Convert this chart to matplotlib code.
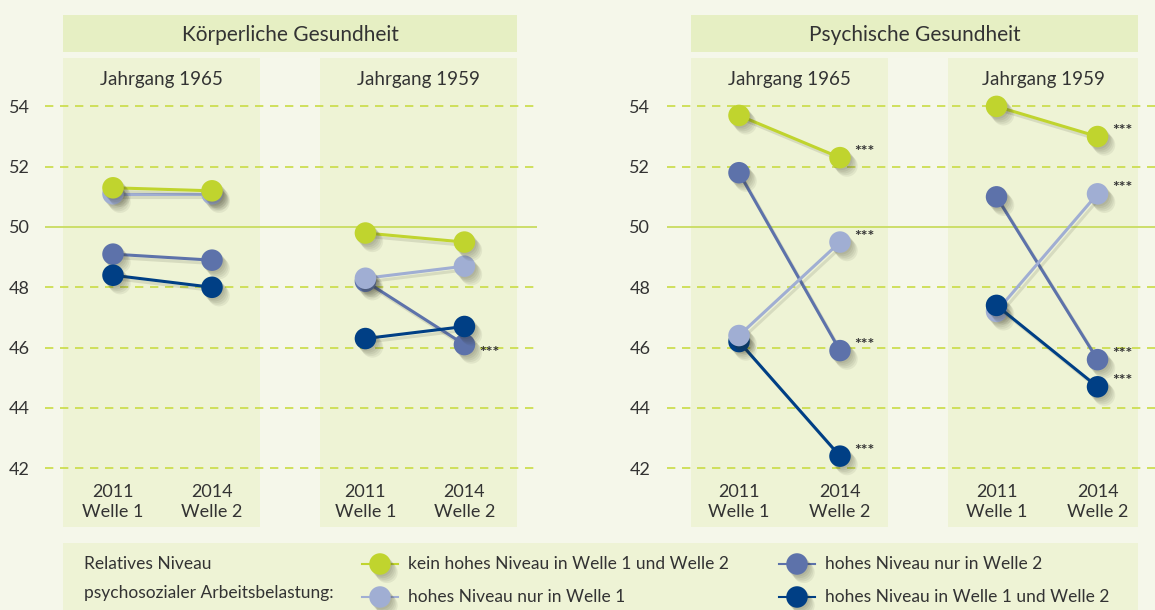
# Gesundheit nach Niveau psychosozialer Arbeitsbelastung, Jahrgang 1965 / 1959
import matplotlib
matplotlib.use('Agg')
import matplotlib.pyplot as plt
import matplotlib.patheffects as pe
from matplotlib.patches import Rectangle
from matplotlib.lines import Line2D

plt.rcParams['font.family'] = ['Lato', 'DejaVu Sans']

# ---- data ----
panels = ['Körperliche Gesundheit', 'Psychische Gesundheit']
cohorts = ['Jahrgang 1965', 'Jahrgang 1959']
waves = ['2011\nWelle 1', '2014\nWelle 2']
groups = ['kein hohes Niveau in Welle 1 und Welle 2',
          'hohes Niveau nur in Welle 1',
          'hohes Niveau nur in Welle 2',
          'hohes Niveau in Welle 1 und Welle 2']
legend_title = ['Relatives Niveau', 'psychosozialer Arbeitsbelastung:']
yticks = [42, 44, 46, 48, 50, 52, 54]

# values: [Jahrgang 1965, Jahrgang 1959] x [Welle 1, Welle 2]
koerper_kein = [[51.3, 51.2], [49.8, 49.5]]
koerper_nur1 = [[51.1, 51.1], [48.3, 48.7]]
koerper_nur2 = [[49.1, 48.9], [48.2, 46.1]]
koerper_beide = [[48.4, 48.0], [46.3, 46.7]]

psych_kein = [[53.7, 52.3], [54.0, 53.0]]
psych_nur1 = [[46.4, 49.5], [47.2, 51.1]]
psych_nur2 = [[51.8, 45.9], [51.0, 45.6]]
psych_beide = [[46.2, 42.4], [47.4, 44.7]]

# significance of change (***), per cohort, per group
koerper_sig = [[False, False, False, False], [False, False, True, False]]
psych_sig = [[True, True, True, True], [True, True, True, True]]

# ---- style ----
W, H = 1155, 610
bg = '#f5f7ea'
col_bg = '#eef3d5'
head_bg = '#e6efc3'
grid_c = '#c9dc45'
txt_c = '#333333'
colors = ['#c0d42e', '#a0aed3', '#5d72aa', '#003f85']

fig = plt.figure(figsize=(W / 100, H / 100), dpi=100, facecolor=bg)


def box(x0, y0, x1, y1, color):
    fig.add_artist(Rectangle((x0 / W, 1 - y1 / H), (x1 - x0) / W, (y1 - y0) / H,
                             transform=fig.transFigure, facecolor=color,
                             edgecolor='none', zorder=0))


def ftext(x, y, s, **kw):
    fig.text(x / W, 1 - y / H, s, color=txt_c, **kw)


mark_fx = [pe.SimplePatchShadow(offset=(d, -d * 1.2), shadow_rgbFace='#303020', alpha=0.07)
           for d in (1.0, 2.0, 3.0, 4.0, 5.0)] + [pe.Normal()]
line_fx = [pe.SimpleLineShadow(offset=(2, -2.5), shadow_color='#303020', alpha=0.12),
           pe.Normal()]

# layout (pixels)
ax_x = [(45, 537), (667, 1155)]
heads = [(63, 517), (691, 1138)]
cols = [[(63, 260), (320, 517)], [(691, 888), (948, 1138)]]
xlims = [(-0.687, 4.283), (-0.713, 4.119)]
xpos = [[0, 1], [2.55, 3.55]]
ylim = (40.05, 55.605)
top, bottom = 58, 527

panel_data = [[koerper_kein, koerper_nur1, koerper_nur2, koerper_beide],
              [psych_kein, psych_nur1, psych_nur2, psych_beide]]
panel_sig = [koerper_sig, psych_sig]
# drawing order of groups per panel/cohort (last on top)
orders = [[[2, 3, 1, 0], [2, 3, 1, 0]], [[2, 3, 1, 0], [2, 1, 3, 0]]]

for p in range(2):
    hx0, hx1 = heads[p]
    box(hx0, 15, hx1, 52, head_bg)
    ftext((hx0 + hx1) / 2, 35, panels[p], fontsize=15, ha='center', va='center')
    for c in range(2):
        cx0, cx1 = cols[p][c]
        box(cx0, top, cx1, bottom, col_bg)
        ftext((cx0 + cx1) / 2, 80, cohorts[c], fontsize=13.5, ha='center', va='center')

    x0, x1 = ax_x[p]
    ax = fig.add_axes([x0 / W, 1 - bottom / H, (x1 - x0) / W, (bottom - top) / H])
    ax.set_facecolor('none')
    for s in ax.spines.values():
        s.set_visible(False)
    ax.set_xlim(*xlims[p])
    ax.set_ylim(*ylim)
    ax.set_xticks([])
    ax.set_yticks(yticks)
    ax.set_yticklabels([str(v) for v in yticks])
    ax.tick_params(axis='y', length=0, pad=11 if p == 0 else 12, labelsize=13, labelcolor=txt_c)

    for v in yticks:
        if v == 50:
            ax.axhline(v, color='#c9dc60', lw=1.3, zorder=1)
        else:
            ax.axhline(v, color=grid_c, lw=1.2, ls=(0, (5, 4)), zorder=1)

    for c in range(2):
        for w in range(2):
            ax.text(xpos[c][w], 40.88, waves[w], ha='center', va='center',
                    fontsize=13, color=txt_c, linespacing=1.35)
        for k, g in enumerate(orders[p][c]):
            vals = panel_data[p][g][c]
            z = 3 + k
            ax.plot(xpos[c], vals, color=colors[g], lw=2.2, solid_capstyle='round',
                    path_effects=line_fx, zorder=z)
            ax.plot(xpos[c], vals, ls='none', marker='o', ms=15.5, mfc=colors[g],
                    mec='none', path_effects=mark_fx, zorder=z)
            if panel_sig[p][c][g]:
                dy = -6 if p == 0 else 4
                ax.annotate('***', (xpos[c][1], vals[1]), xytext=(10.5, dy),
                            textcoords='offset points', ha='left', va='center',
                            fontsize=11.5, fontweight='bold', color=txt_c, zorder=10)

# legend
box(63, 543, 1138, 610, col_bg)
ftext(84, 564, legend_title[0], fontsize=12.5, ha='left', va='center')
ftext(84, 593, legend_title[1], fontsize=12.5, ha='left', va='center')
leg_pos = [(380, 564), (380, 597), (797, 564), (797, 597)]
for g, (lx, ly) in enumerate(leg_pos):
    yy = 1 - ly / H
    fig.add_artist(Line2D([(lx - 18) / W, (lx + 18) / W], [yy, yy], color=colors[g],
                          lw=1.5, transform=fig.transFigure))
    fig.add_artist(Line2D([lx / W], [yy], ls='none', marker='o', ms=15.5,
                          mfc=colors[g], mec='none', path_effects=mark_fx,
                          transform=fig.transFigure))
    ftext(lx + 28, ly, groups[g], fontsize=12.5, ha='left', va='center')

fig.savefig('out.png', dpi=100, facecolor=bg)
